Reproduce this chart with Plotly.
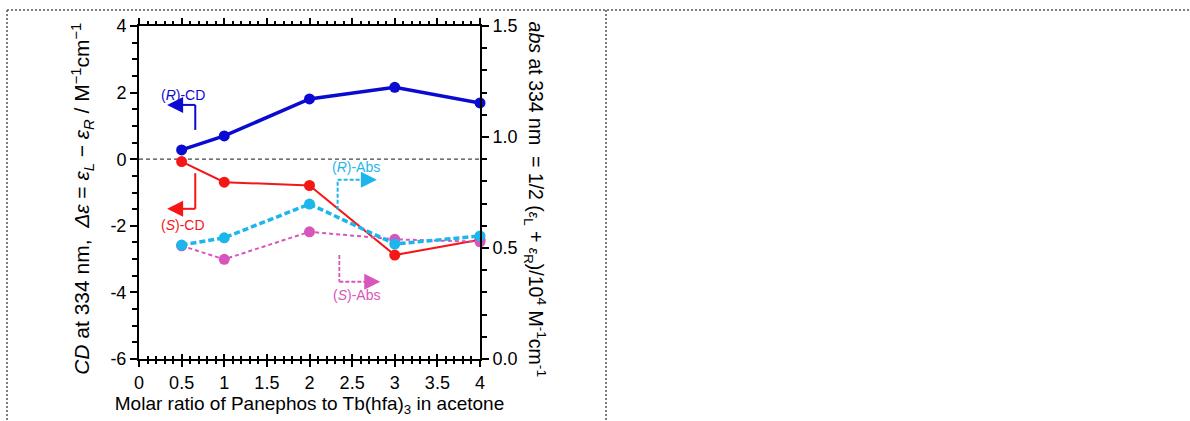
import plotly.graph_objects as go

# ---- data ----
ratio = [0.5, 1, 2, 3, 4]
r_cd = [0.28, 0.70, 1.81, 2.16, 1.69]
s_cd = [-0.07, -0.69, -0.79, -2.88, -2.42]
r_abs = [0.513, 0.546, 0.698, 0.518, 0.554]
s_abs = [0.510, 0.449, 0.573, 0.539, 0.528]

x_ticks = [0, 0.5, 1, 1.5, 2, 2.5, 3, 3.5, 4]
x_ticktext = ["0", "0.5", "1", "1.5", "2", "2.5", "3", "3.5", "4"]
y_ticks = [4, 2, 0, -2, -4, -6]
y_ticktext = ["4", "2", "0", "-2", "-4", "-6"]
y2_ticks = [0, 0.5, 1.0, 1.5]
y2_ticktext = ["0.0", "0.5", "1.0", "1.5"]

BLUE = "#0A0AD0"
RED = "#F51616"
CYAN = "#1CB6EC"
MAG = "#D855BC"
FONT = "Liberation Sans, Arial, sans-serif"

fig = go.Figure()
# invisible helper trace so the inside-tick overlay axis is drawn
fig.add_trace(go.Scatter(x=ratio, y=r_cd, xaxis="x2", mode="markers",
                         marker=dict(opacity=0), hoverinfo="skip", showlegend=False))
fig.add_trace(go.Scatter(x=ratio, y=s_abs, yaxis="y2", mode="lines+markers",
                         line=dict(color=MAG, width=2, dash="4px,3px"),
                         marker=dict(size=11, color=MAG), showlegend=False, cliponaxis=False))
fig.add_trace(go.Scatter(x=ratio, y=r_abs, yaxis="y2", mode="lines+markers",
                         line=dict(color=CYAN, width=3.5, dash="6px,3px"),
                         marker=dict(size=11, color=CYAN), showlegend=False, cliponaxis=False))
fig.add_trace(go.Scatter(x=ratio, y=s_cd, mode="lines+markers",
                         line=dict(color=RED, width=2),
                         marker=dict(size=11, color=RED), showlegend=False, cliponaxis=False))
fig.add_trace(go.Scatter(x=ratio, y=r_cd, mode="lines+markers",
                         line=dict(color=BLUE, width=3.5),
                         marker=dict(size=11, color=BLUE), showlegend=False, cliponaxis=False))

shapes = []
# zero line
shapes.append(dict(type="line", xref="x", yref="y", x0=0, x1=4, y0=0, y1=0,
                   line=dict(color="#444", width=1.2, dash="4px,3px"), layer="below"))
# dotted frame (paper coords)
frame = dict(color="#555", width=1.5, dash="2px,2px")
shapes.append(dict(type="line", xref="paper", yref="paper", x0=-0.387, x1=3.09,
                   y0=1.048, y1=1.048, line=frame))
shapes.append(dict(type="line", xref="paper", yref="paper", x0=-0.387, x1=-0.387,
                   y0=1.048, y1=-0.2, line=frame))
shapes.append(dict(type="line", xref="paper", yref="paper", x0=1.3695, x1=1.3695,
                   y0=1.048, y1=-0.2, line=frame))

# annotation arrows (pointer lines)
def seg(x0, y0, x1, y1, color, width, dash=None):
    ln = dict(color=color, width=width)
    if dash:
        ln["dash"] = dash
    shapes.append(dict(type="line", xref="x", yref="y", x0=x0, y0=y0, x1=x1, y1=y1, line=ln))

# (R)-CD
seg(0.66, 0.88, 0.66, 1.63, BLUE, 2)
seg(0.66, 1.63, 0.42, 1.63, BLUE, 2)
# (S)-CD
seg(0.66, -0.42, 0.66, -1.49, RED, 2)
seg(0.66, -1.49, 0.42, -1.49, RED, 2)
# (R)-Abs (on left-axis coordinates)
seg(2.33, -1.52, 2.33, -0.62, CYAN, 2, "4px,2px")
seg(2.33, -0.62, 2.66, -0.62, CYAN, 2, "4px,2px")
# (S)-Abs
seg(2.35, -2.88, 2.35, -3.68, MAG, 1.8, "4px,2px")
seg(2.35, -3.68, 2.70, -3.68, MAG, 1.8, "4px,2px")

annotations = []
def head(x, y, color, direction):
    annotations.append(dict(x=x, y=y, xref="x", yref="y", ax=-direction * 6, ay=0,
                            showarrow=True, arrowhead=2, arrowsize=1.6, arrowwidth=2,
                            arrowcolor=color, text=""))

head(0.33, 1.63, BLUE, -1)
head(0.33, -1.49, RED, -1)
head(2.79, -0.62, CYAN, 1)
head(2.83, -3.68, MAG, 1)

def label(x, y, txt, color):
    annotations.append(dict(x=x, y=y, xref="x", yref="y", text=txt, showarrow=False,
                            font=dict(family=FONT, size=14, color=color)))

label(0.52, 1.94, "(<i>R</i>)-CD", BLUE)
label(0.52, -1.98, "(<i>S</i>)-CD", RED)
label(2.54, -0.22, "(<i>R</i>)-Abs", CYAN)
label(2.55, -4.08, "(<i>S</i>)-Abs", MAG)

# left axis title
annotations.append(dict(
    x=-0.168, y=0.48, xref="paper", yref="paper", textangle=-90, showarrow=False,
    xanchor="center", yanchor="middle",
    text="<i>CD</i> at 334 nm,  <i>Δε</i> = <i>ε</i><sub><i>L</i></sub> − <i>ε</i><sub><i>R</i></sub> / M<sup>−1</sup>cm<sup>−1</sup>",
    font=dict(family=FONT, size=21, color="black")))
# right axis title
annotations.append(dict(
    x=1.163, y=0.48, xref="paper", yref="paper", textangle=90, showarrow=False,
    xanchor="center", yanchor="middle",
    text="<i>abs</i> at 334 nm  = 1/2 (<span style='font-size:14px'><i>ε</i></span><sub>L</sub> + <span style='font-size:14px'><i>ε</i></span><sub>R</sub>)/10<sup>4</sup> M<sup>-1</sup>cm<sup>-1</sup>",
    font=dict(family=FONT, size=19.5, color="black")))

fig.update_layout(
    width=1190, height=421,
    margin=dict(l=139, r=710, t=26, b=62),
    paper_bgcolor="white", plot_bgcolor="white",
    font=dict(family=FONT, size=18, color="black"),
    shapes=shapes, annotations=annotations,
    xaxis=dict(range=[0, 4], tickvals=x_ticks, ticktext=x_ticktext,
               showline=True, linecolor="black", linewidth=2, mirror="ticks",
               ticks="outside", ticklen=6, tickwidth=1.5, tickcolor="black",
               minor=dict(dtick=0.1, ticks="outside", ticklen=3, tickwidth=1.5, tickcolor="black"),
               showgrid=False, zeroline=False,
               title=dict(text="Molar ratio of Panephos to Tb(hfa)<sub>3</sub> in acetone",
                          font=dict(size=19), standoff=2),
               tickfont=dict(size=18)),
    xaxis2=dict(range=[0, 4], overlaying="x", anchor="y", side="bottom",
                tickvals=x_ticks, showticklabels=False,
                ticks="inside", ticklen=5, tickwidth=1.5, tickcolor="black",
                minor=dict(dtick=0.1, ticks="inside", ticklen=3, tickwidth=1.5, tickcolor="black"),
                showgrid=False, zeroline=False, showline=False),
    yaxis=dict(range=[-6, 4], tickvals=y_ticks, ticktext=y_ticktext,
               showline=True, linecolor="black", linewidth=2,
               ticks="outside", ticklen=7, tickwidth=1.5, tickcolor="black",
               minor=dict(dtick=0.5, tick0=0, ticks="outside", ticklen=5, tickwidth=1.5, tickcolor="black"),
               showgrid=False, zeroline=False, tickfont=dict(size=18)),
    yaxis2=dict(range=[0, 1.5], overlaying="y", side="right",
                tickvals=y2_ticks, ticktext=y2_ticktext,
                showline=True, linecolor="black", linewidth=2,
                ticks="outside", ticklen=7, tickwidth=1.5, tickcolor="black",
                minor=dict(dtick=0.1, tick0=0, ticks="outside", ticklen=5, tickwidth=1.5, tickcolor="black"),
                showgrid=False, zeroline=False, tickfont=dict(size=18)),
)

fig.write_html("out.html")
